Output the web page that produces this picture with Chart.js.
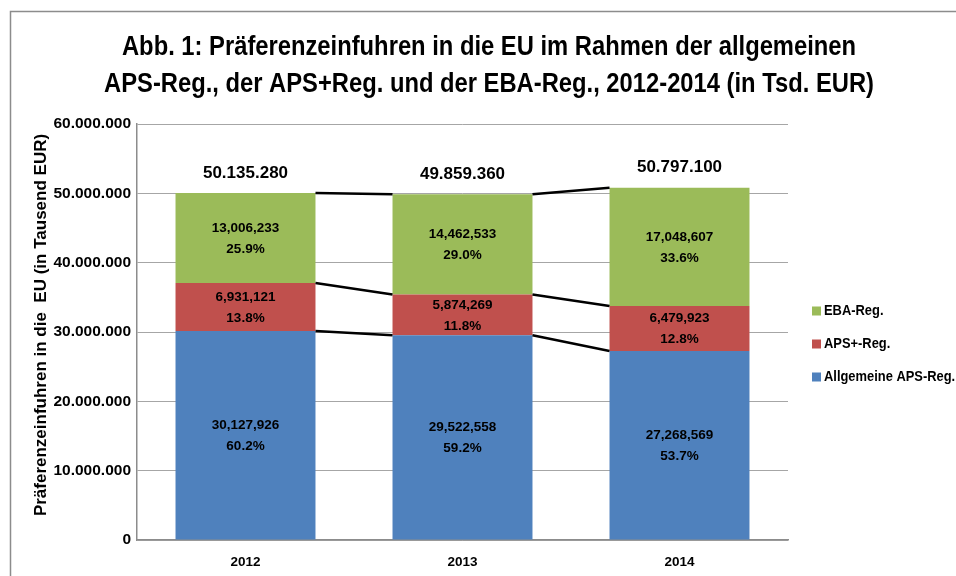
<!DOCTYPE html>
<html><head><meta charset="utf-8">
<script src="https://cdn.jsdelivr.net/npm/chart.js@4/dist/chart.umd.min.js"></script>
<style>html,body{margin:0;padding:0;background:#fff;}#wrap{position:absolute;left:0;top:0;width:956px;height:576px;}</style>
</head><body><div id="wrap"><canvas id="c" width="956" height="576"></canvas></div>
<script>
const categories = ['2012', '2013', '2014'];
const apsValues = [30127926, 29522558, 27268569];
const apsPlusValues = [6931121, 5874269, 6479923];
const ebaValues = [13006233, 14462533, 17048607];
const apsPct = [60.2, 59.2, 53.7];
const apsPlusPct = [13.8, 11.8, 12.8];
const ebaPct = [25.9, 29.0, 33.6];
const totals = [50135280, 49859360, 50797100];
const yTicks = [0, 10000000, 20000000, 30000000, 40000000, 50000000, 60000000];
const titleLines = ['Abb. 1: Präferenzeinfuhren in die EU im Rahmen der allgemeinen', 'APS-Reg., der APS+Reg. und der EBA-Reg., 2012-2014 (in Tsd. EUR)'];
const yTitle = 'Präferenzeinfuhren in die  EU (in Tausend EUR)';

const WIDE = "'Liberation Sans', Arial, sans-serif";

function dotFmt(v){ return String(Math.round(v)).replace(/\B(?=(\d{3})+(?!\d))/g, '.'); }
function commaFmt(v){ return String(Math.round(v)).replace(/\B(?=(\d{3})+(?!\d))/g, ','); }

const pctByDataset = [apsPct, apsPlusPct, ebaPct];

// draw text horizontally condensed (Calibri-like narrow look)
function narrowText(c, text, x, y, sx, align){
  c.save();
  c.translate(x, y);
  c.scale(sx, 1);
  c.textAlign = align;
  c.fillText(text, 0, 0);
  c.restore();
}

const deco = {
  id: 'deco',
  beforeDraw(chart){
    const c = chart.ctx; c.save();
    c.strokeStyle = '#8c8c8c'; c.lineWidth = 1.5;
    c.beginPath(); c.moveTo(10.5, 576); c.lineTo(10.5, 11.5); c.lineTo(956, 11.5); c.stroke();
    c.restore();
  },
  afterDatasetsDraw(chart){
    const c = chart.ctx; c.save();
    const n = chart.data.datasets.length;
    c.strokeStyle = '#000'; c.lineWidth = 2.5;
    for (let i = 0; i < n; i++){
      const els = chart.getDatasetMeta(i).data;
      for (let j = 0; j < els.length - 1; j++){
        const a = els[j], b = els[j+1];
        c.beginPath();
        c.moveTo(a.x + a.width/2, a.y);
        c.lineTo(b.x - b.width/2, b.y);
        c.stroke();
      }
    }
    c.fillStyle = '#000'; c.textAlign = 'center'; c.textBaseline = 'middle';
    c.font = 'bold 13.5px ' + WIDE;
    for (let i = 0; i < n; i++){
      const ds = chart.data.datasets[i];
      chart.getDatasetMeta(i).data.forEach((el, j) => {
        const mid = (el.y + el.base) / 2;
        c.fillText(commaFmt(ds.data[j]), el.x, mid - 10);
        c.fillText(pctByDataset[i][j].toFixed(1) + '%', el.x, mid + 11);
      });
    }
    c.font = 'bold 17px ' + WIDE;
    chart.getDatasetMeta(n - 1).data.forEach((el, j) => {
      c.fillText(dotFmt(totals[j]), el.x, el.y - 20);
    });
    c.restore();
  },
  afterDraw(chart){
    const c = chart.ctx; c.save();
    c.fillStyle = '#000'; c.textBaseline = 'middle';
    c.font = 'bold 27px ' + WIDE;
    narrowText(c, titleLines[0], 489, 48, 0.88, 'center');
    narrowText(c, titleLines[1], 489, 85, 0.88, 'center');
    // y axis title
    c.save();
    c.translate(41, 325);
    c.rotate(-Math.PI / 2);
    c.font = 'bold 17px ' + WIDE;
    c.textAlign = 'center';
    c.fillText(yTitle, 0, 0);
    c.restore();
    // legend (reverse order)
    c.font = 'bold 15px ' + WIDE;
    const ds = chart.data.datasets;
    const rows = [311, 344, 377];
    for (let k = 0; k < ds.length; k++){
      const d = ds[ds.length - 1 - k];
      c.fillStyle = d.backgroundColor;
      c.fillRect(812, rows[k] - 4.5, 9, 9);
      c.fillStyle = '#000';
      narrowText(c, d.label, 824, rows[k], 0.86, 'left');
    }
    c.restore();
  }
};

new Chart(document.getElementById('c'), {
  type: 'bar',
  data: {
    labels: categories,
    datasets: [
      { label: 'Allgemeine APS-Reg.', data: apsValues, backgroundColor: '#4F81BD' },
      { label: 'APS+-Reg.', data: apsPlusValues, backgroundColor: '#C0504D' },
      { label: 'EBA-Reg.', data: ebaValues, backgroundColor: '#9BBB59' }
    ]
  },
  options: {
    responsive: false,
    animation: false,
    devicePixelRatio: 1,
    layout: { padding: { left: 0, top: 124, right: 168, bottom: 0 } },
    datasets: { bar: { categoryPercentage: 1, barPercentage: 0.645, borderWidth: 0 } },
    plugins: { legend: { display: false }, title: { display: false }, tooltip: { enabled: false } },
    scales: {
      x: {
        stacked: true,
        grid: { display: false, drawTicks: false },
        border: { display: true, color: '#8c8c8c', width: 1.5 },
        ticks: { padding: 14, color: '#000', font: { family: WIDE, weight: 'bold', size: 13.5 } },
        afterFit(s){ s.height = 36; }
      },
      y: {
        stacked: true,
        min: 0, max: 60000000,
        afterBuildTicks(s){ s.ticks = yTicks.map(v => ({ value: v })); },
        grid: { color: '#a6a6a6', lineWidth: 1, drawTicks: false },
        border: { display: true, color: '#8c8c8c', width: 1.5 },
        ticks: { padding: 6, color: '#000', font: { family: WIDE, weight: 'bold', size: 15.5 }, callback: v => dotFmt(v) },
        title: { display: false },
        afterFit(s){ s.width = 137; }
      }
    }
  },
  plugins: [deco]
});
</script></body></html>
